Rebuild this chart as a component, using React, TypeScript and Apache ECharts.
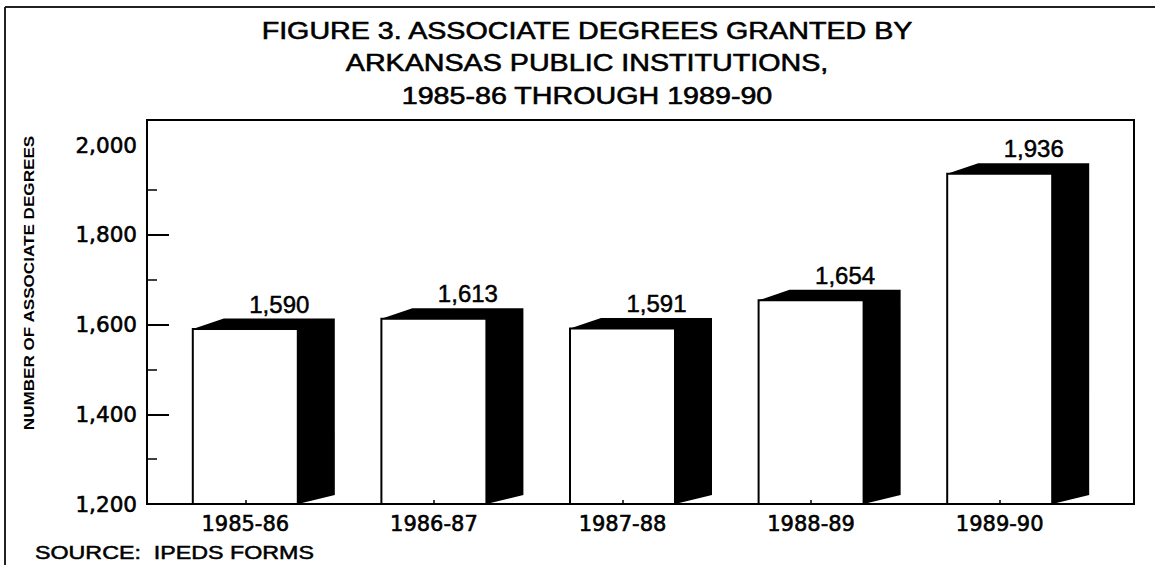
import React, { useEffect, useRef } from "react";
import * as echarts from "echarts";

const categories = ["1985-86", "1986-87", "1987-88", "1988-89", "1989-90"];
const degrees = [1590, 1613, 1591, 1654, 1936];
const labelTicks = [1200, 1400, 1600, 1800, 2000];
const majorTicks = [1200, 1400, 1600, 1800];
const minorTicks = [1300, 1500, 1700, 1900];
const titleLines = [
  "FIGURE 3. ASSOCIATE DEGREES GRANTED BY",
  "ARKANSAS PUBLIC INSTITUTIONS,",
  "1985-86 THROUGH 1989-90",
];
const yAxisTitle = "NUMBER OF ASSOCIATE DEGREES";
const sourceNote = "SOURCE:  IPEDS FORMS";
const Y_MIN = 1200;
const Y_MAX = 2056;

const fmt = (v: number) => v.toLocaleString("en-US");

export default function App() {
  const ref = useRef<HTMLDivElement>(null);
  useEffect(() => {
    document.body.style.margin = "0";
    const chart = echarts.init(ref.current!, undefined, { renderer: "svg" });
    const sans = "Liberation Sans, Arial, sans-serif";
    const wide = "DejaVu Sans, sans-serif";
    const heavy = { textBorderColor: "#000", textBorderWidth: 0.6 };
    const titleY = [30.5, 63, 96];
    chart.setOption({
      animation: false,
      backgroundColor: "#fff",
      grid: { left: 151, right: 61, top: 120, bottom: 61, containLabel: false },
      xAxis: {
        type: "category",
        data: categories,
        z: 5,
        axisLine: { show: true, lineStyle: { color: "#000", width: 2 } },
        axisTick: { show: true, alignWithLabel: true, inside: true, length: 4, lineStyle: { color: "#000", width: 1.5 } },
        axisLabel: { color: "#000", fontFamily: wide, fontSize: 21, margin: 9, ...heavy },
        splitLine: { show: false },
      },
      yAxis: [
        {
          type: "value",
          min: Y_MIN,
          max: Y_MAX,
          interval: 200,
          offset: 4,
          axisLine: { show: true, lineStyle: { color: "#000", width: 2 } },
          axisTick: { show: true, inside: true, length: 22, customValues: majorTicks, lineStyle: { color: "#000", width: 2 } },
          axisLabel: {
            color: "#000",
            fontFamily: wide,
            fontSize: 21.5,
            margin: 10,
            customValues: labelTicks,
            formatter: (v: number) => fmt(v),
            ...heavy,
          },
          splitLine: { show: false },
        },
        {
          type: "value",
          min: Y_MIN,
          max: Y_MAX,
          interval: 100,
          offset: 4,
          position: "left",
          axisLine: { show: false },
          axisTick: { show: true, inside: true, length: 10, customValues: minorTicks, lineStyle: { color: "#000", width: 1.5 } },
          axisLabel: { show: false },
          splitLine: { show: false },
        },
      ],
      graphic: [
        { type: "line", shape: { x1: 5, y1: 7, x2: 1160, y2: 7 }, style: { stroke: "#222", lineWidth: 2 } },
        { type: "line", shape: { x1: 5, y1: 7, x2: 5, y2: 570 }, style: { stroke: "#222", lineWidth: 2 } },
        { type: "rect", z: 10, shape: { x: 147, y: 120, width: 987, height: 384 }, style: { fill: "none", stroke: "#000", lineWidth: 2 } },
        ...titleLines.map((t, i) => ({
          type: "text",
          x: 587,
          y: titleY[i],
          scaleX: 1.17,
          style: { text: t, fontFamily: sans, fontSize: 24.5, fill: "#000", textAlign: "center", textVerticalAlign: "middle", stroke: "#000", lineWidth: 0.6 },
        })),
        {
          type: "text",
          x: 35,
          y: 552,
          scaleX: 1.25,
          style: { text: sourceNote, fontFamily: sans, fontSize: 18.6, fill: "#000", textAlign: "left", textVerticalAlign: "middle", stroke: "#000", lineWidth: 0.5 },
        },
        {
          type: "text",
          x: 28,
          y: 283,
          rotation: Math.PI / 2,
          scaleX: 1.14,
          style: { text: yAxisTitle, fontFamily: sans, fontSize: 15, fontWeight: "bold", fill: "#000", textAlign: "center", textVerticalAlign: "middle" },
        },
      ],
      series: [
        {
          type: "custom",
          clip: false,
          data: degrees.map((v, i) => [i, v]),
          renderItem: (params: any, api: any) => {
            const idx = api.value(0);
            const v = api.value(1);
            const top = api.coord([idx, v]);
            const base = api.coord([idx, Y_MIN]);
            const half = 52.5;
            const x0 = top[0] - half;
            const x1 = top[0] + half;
            const yT = top[1];
            const yB = base[1];
            const dxL = 31;
            const dxR = 37;
            const dy = 10.5;
            return {
              type: "group",
              children: [
                {
                  type: "polygon",
                  shape: {
                    points: [
                      [x0, yT],
                      [x0 + dxL, yT - dy],
                      [x1 + dxR, yT - dy],
                      [x1 + dxR, yB - 9],
                      [x1, yB],
                    ],
                  },
                  style: { fill: "#000" },
                },
                {
                  type: "rect",
                  shape: { x: x0, y: yT, width: x1 - x0, height: yB - yT },
                  style: { fill: "#fff", stroke: "#000", lineWidth: 2 },
                },
                {
                  type: "text",
                  x: top[0] + 34,
                  y: yT - dy - 14.5,
                  style: {
                    text: fmt(v),
                    fontFamily: sans,
                    fontSize: 24,
                    fill: "#000",
                    textAlign: "center",
                    textVerticalAlign: "middle",
                    stroke: "#000",
                    lineWidth: 0.5,
                  },
                },
              ],
            };
          },
        },
      ],
    });
    return () => chart.dispose();
  }, []);
  return <div ref={ref} style={{ width: 1155, height: 565 }} />;
}
